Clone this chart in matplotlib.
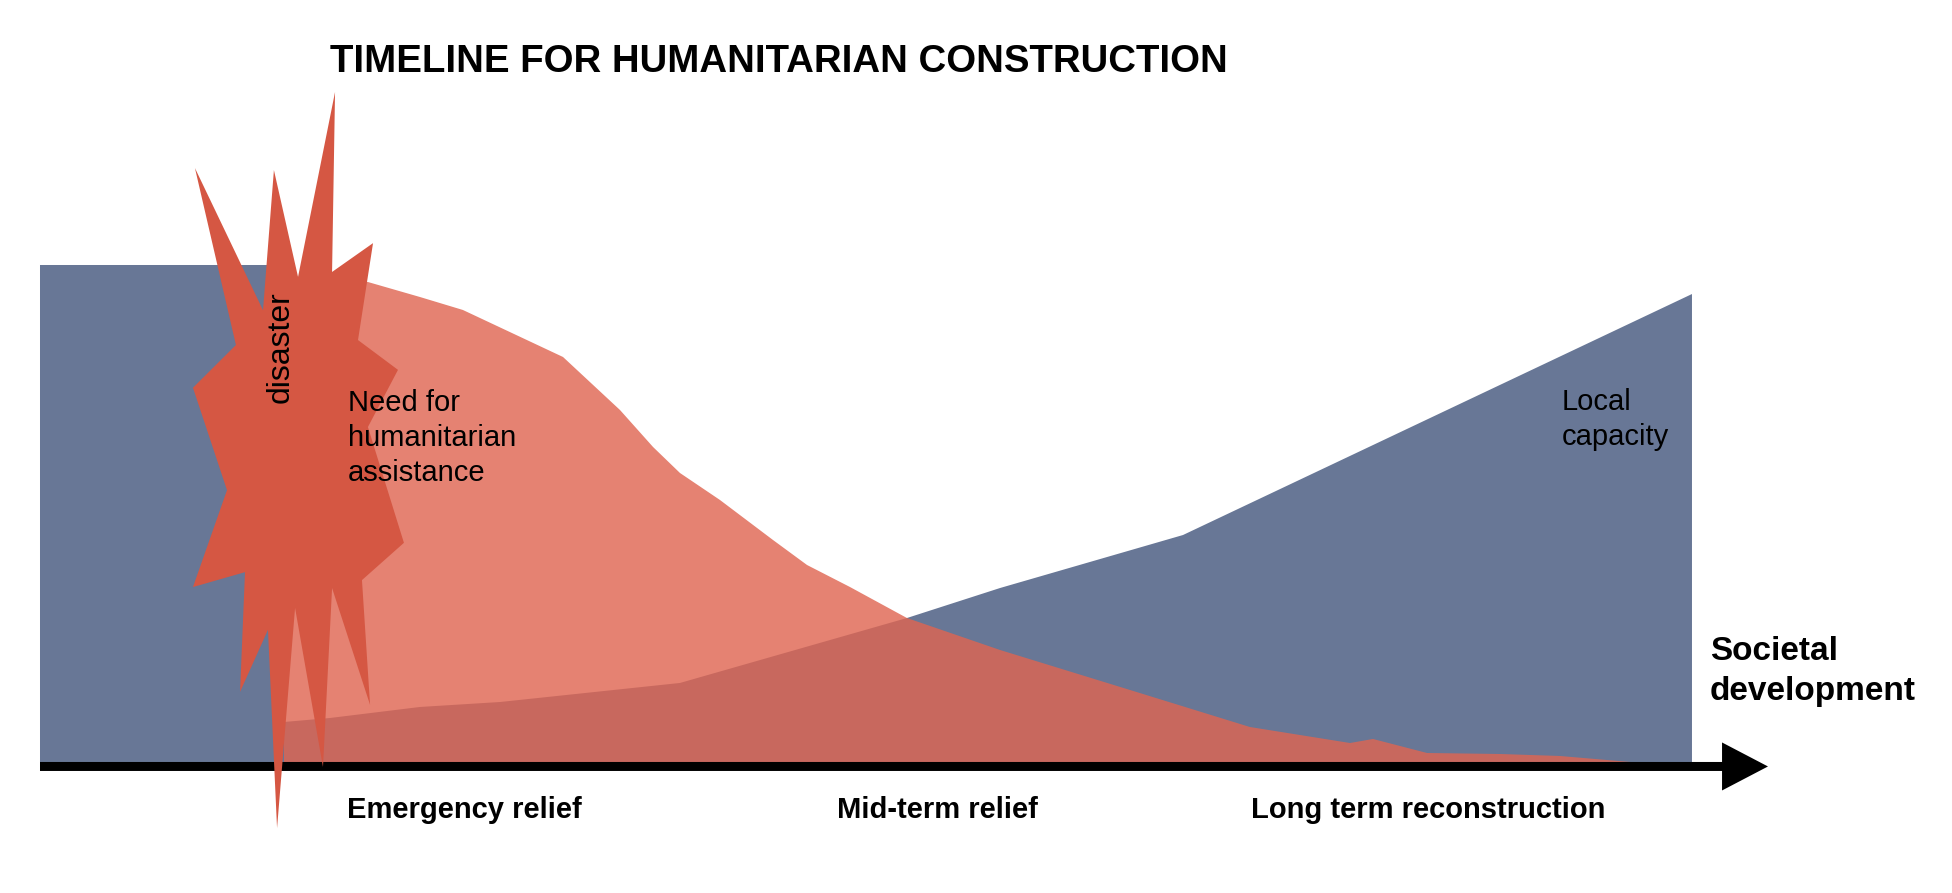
import matplotlib
matplotlib.use('agg')
import matplotlib.pyplot as plt

# time axis: 0 = start of diagram, 100 = right end of the local capacity area
# level axis: 0 = baseline, 100 = capacity before the disaster

# Local capacity
cap_t = [0, 14.77, 14.77, 17.55, 23.0, 27.85, 38.74, 52.48, 58.11, 69.19, 100, 100, 0]
cap_lvl = [100, 100, 8.05, 8.85, 11.07, 12.07, 15.9, 28.97, 35.0, 45.67, 94.16, 0, 0]

# Need for humanitarian assistance
need_t = [14.77, 14.77, 19.85, 23.0, 25.6, 31.66, 35.11, 37.11, 38.74, 41.16, 44.37,
          46.43, 49.03, 52.48, 58.11, 65.98, 73.24, 79.30, 80.69, 83.96, 88.38,
          92.01, 96.25]
need_lvl = [0, 97.79, 96.58, 93.56, 90.95, 81.49, 70.82, 63.38, 58.15, 52.72, 44.67,
            39.64, 35.21, 28.97, 22.54, 14.49, 7.04, 3.82, 4.63, 1.81, 1.61,
            1.21, 0]

# disaster starburst outline
burst_t = [9.38, 13.5, 14.16, 15.62, 17.86, 17.68, 20.16, 19.25, 21.67, 19.85, 22.03,
           19.49, 19.98, 17.68, 17.13, 15.44, 14.35, 13.8, 12.11, 12.41, 9.26, 11.32,
           9.26, 11.86]
burst_lvl = [119.5, 90.9, 119.1, 97.6, 134.8, 98.6, 104.4, 84.9, 78.9, 67.4, 44.1,
             36.6, 11.5, 35.0, -1.0, 31.0, -13.3, 26.6, 14.1, 38.2, 35.2, 54.7,
             75.3, 83.9]

phases = ['Emergency relief', 'Mid-term relief', 'Long term reconstruction']
phase_t = [18.58, 48.24, 73.3]

BLUE = '#687796'
RED = '#DF6551'
BURST = '#D55743'
FONT = 'Liberation Sans'

fig = plt.figure(figsize=(19.52, 8.93), dpi=100)
ax = fig.add_axes([0, 0, 1, 1])
ax.set_xlim(-2.421, 115.74)
ax.set_ylim(-26.36, 153.32)
ax.axis('off')

ax.fill(cap_t, cap_lvl, color=BLUE, lw=0, zorder=1)
ax.fill(need_t, need_lvl, color=RED, alpha=0.81, lw=0, zorder=2)

# time arrow
ax.arrow(0, -0.9, 104.6, 0, width=1.81, head_width=9.66, head_length=2.78,
         length_includes_head=True, color='black', lw=0, zorder=3)

ax.fill(burst_t, burst_lvl, color=BURST, lw=0, zorder=4)

# multi-line labels are anchored on the baseline of their last line
ax.text(14.59, 83.4, 'disaster', rotation=90, ha='center', va='center',
        fontsize=23, family=FONT, zorder=5)
ax.text(18.64, 56.5, 'Need for\nhumanitarian\nassistance', ha='left', va='baseline',
        fontsize=21, family=FONT, linespacing=1.32, zorder=5)
ax.text(92.13, 63.8, 'Local\ncapacity', ha='left', va='baseline',
        fontsize=21, family=FONT, linespacing=1.32, zorder=5)
ax.text(101.09, 12.5, 'Societal\ndevelopment', ha='left', va='baseline',
        fontsize=24, family=FONT, fontweight='bold', linespacing=1.36, zorder=5)

for name, t in zip(phases, phase_t):
    ax.text(t, -11.27, name, ha='left', va='baseline', fontsize=21,
            family=FONT, fontweight='bold')

ax.text(17.55, 138.8, 'TIMELINE FOR HUMANITARIAN CONSTRUCTION', ha='left',
        va='baseline', fontsize=27.6, family=FONT, fontweight='bold')

fig.savefig('out.png', dpi=100, facecolor='white')
